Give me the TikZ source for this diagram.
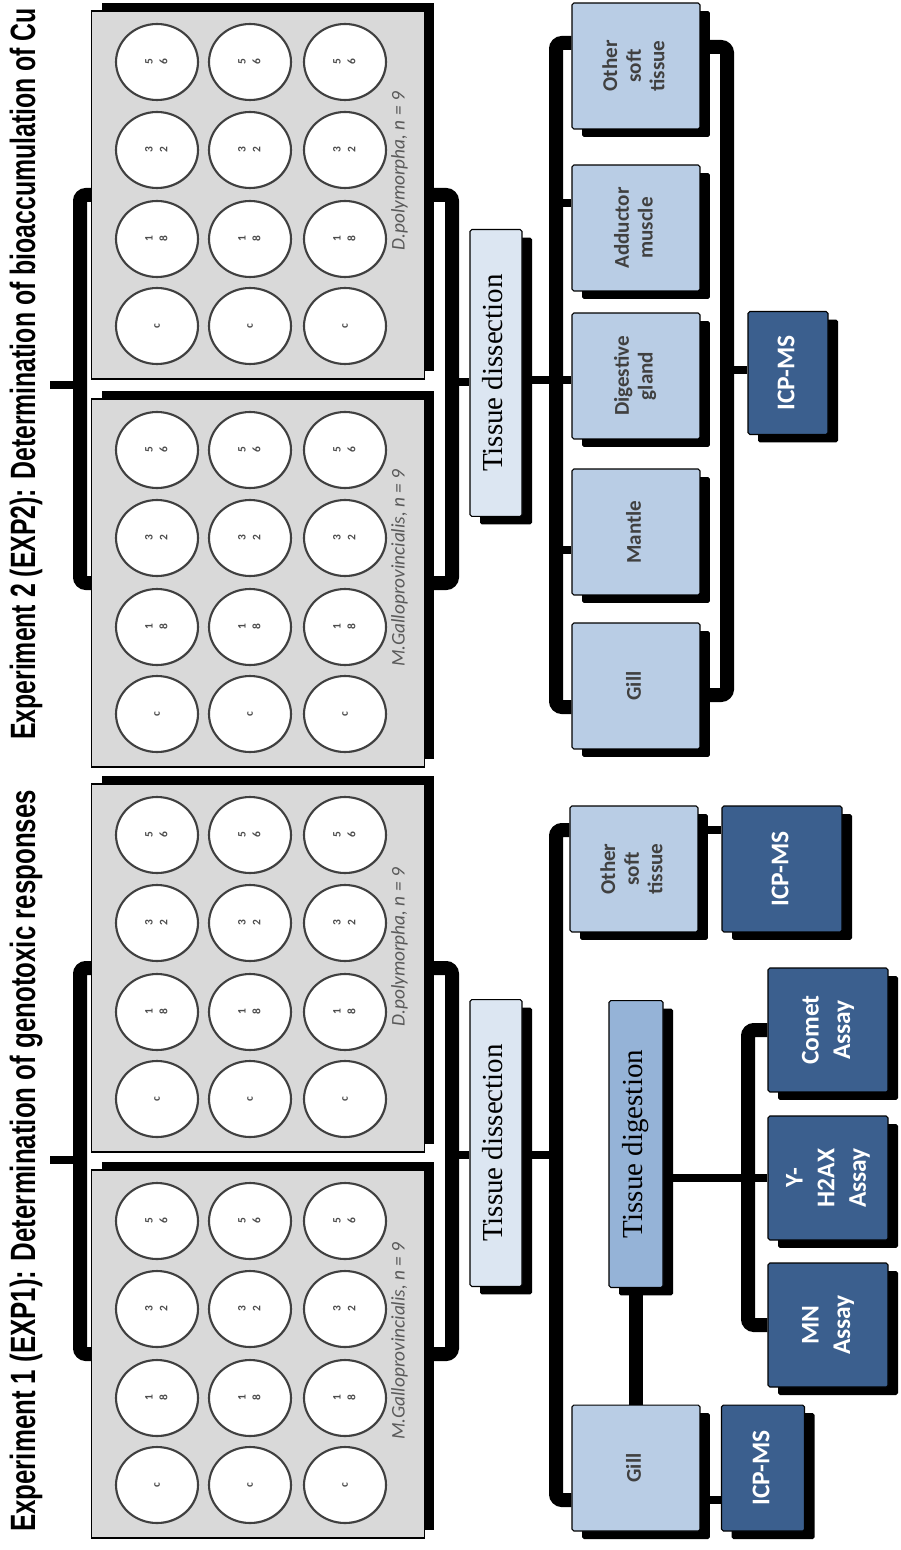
\documentclass[tikz,border=0pt]{standalone}
\usepackage{fontspec}
\usepackage{graphicx}
\setmainfont{Carlito}
\newfontfamily\boxserif{Liberation Serif}
\newfontfamily\headfont{Liberation Sans}
\usetikzlibrary{shapes.geometric,shadows}
\definecolor{plateGrey}{HTML}{D9D9D9}
\definecolor{organBlue}{HTML}{B9CDE5}
\definecolor{paleBlue}{HTML}{DCE6F2}
\definecolor{midBlue}{HTML}{95B3D7}
\definecolor{darkBlue}{HTML}{3B5F8E}
\definecolor{labelGrey}{HTML}{595959}
\newcommand{\vtext}[1]{\rotatebox{90}{\begin{tabular}{@{}c@{}}#1\end{tabular}}}

\begin{document}
\begin{tikzpicture}[
  x=0.02cm, y=-0.02cm,
  plate/.style={draw=black, line width=0.8pt, fill=plateGrey, inner sep=0pt,
                minimum width=6.66cm, minimum height=7.36cm,
                drop shadow={shadow xshift=0.2cm, shadow yshift=0.16cm, opacity=1, fill=black}},
  well/.style={ellipse, draw=black!75, line width=1.2pt, fill=white, inner sep=0pt,
               minimum width=1.64cm, minimum height=1.52cm, text=black!70,
               font=\bfseries\fontsize{6.5}{8.5}\selectfont,
               drop shadow={shadow xshift=0.5pt, shadow yshift=-0.5pt, opacity=.3, fill=black}},
  platelab/.style={inner sep=0pt, text=labelGrey, font=\itshape\fontsize{11}{13}\selectfont},
  title/.style={inner sep=0pt, font=\headfont\bfseries\fontsize{20}{24}\selectfont},
  box/.style={draw=black, line width=0.6pt, rounded corners=1pt, inner sep=0pt, align=center,
              drop shadow={shadow xshift=0.2cm, shadow yshift=-0.16cm, opacity=1, fill=black}},
  organ/.style={box, fill=organBlue, minimum width=2.56cm, minimum height=2.52cm,
                text=black!75, font=\bfseries\fontsize{12}{13.5}\selectfont},
  assay/.style={box, fill=darkBlue, text=white, font=\bfseries\fontsize{14.5}{18}\selectfont},
  tissue/.style={box, minimum width=1.04cm, minimum height=5.74cm,
                 font=\boxserif\fontsize{16.5}{19}\selectfont},
  bar/.style={line width=0.28cm, rounded corners=0.12cm},
  link/.style={line width=0.16cm}
]
\useasboundingbox (0,0) rectangle (901,1550);

% titles
\node[title] (t2) at (26,374) {\rotatebox{90}{\resizebox{14.64cm}{\height}{Experiment 2 (EXP2): Determination of bioaccumulation of Cu}}};
\node[title] (t1) at (26,1161) {\rotatebox{90}{\resizebox{14.84cm}{\height}{Experiment 1 (EXP1): Determination of genotoxic responses}}};

% well plates
\node[plate] (pD2) at (258,195) {};
\node[plate] (pM2) at (258,583) {};
\node[plate] (pD1) at (258,968) {};
\node[plate] (pM1) at (258,1354) {};
\foreach \p/\cy in {pD2/195, pM2/583, pD1/968, pM1/1354} {
  \foreach \cx [count=\r] in {157,250,345} {
    \foreach \dy/\lab [count=\c] in {-133/{5\\6}, -45/{3\\2}, 44/{1\\8}, 131/{c}} {
      \node[well] (\p-w\r\c) at (\cx,\cy+\dy) {\vtext{\lab}};
    }
  }
}
\node[platelab] (lD2) at (400,171) {\vtext{D.polymorpha, n = 9}};
\node[platelab] (lM2) at (400,568) {\vtext{M.Galloprovincialis, n = 9}};
\node[platelab] (lD1) at (400,947) {\vtext{D.polymorpha, n = 9}};
\node[platelab] (lM1) at (400,1341) {\vtext{M.Galloprovincialis, n = 9}};

% EXP2 boxes
\node[tissue, fill=paleBlue] (ts2) at (496,373) {\vtext{Tissue dissection}};
\node[organ] (o2)  at (636,66)  {\vtext{Other\\soft\\tissue}};
\node[organ] (ad2) at (636,228) {\vtext{Adductor\\muscle}};
\node[organ] (dg2) at (636,376) {\vtext{Digestive\\gland}};
\node[organ] (ma2) at (636,532) {\vtext{Mantle}};
\node[organ] (g2)  at (636,686) {\vtext{Gill}};
\node[assay, minimum width=1.6cm, minimum height=2.46cm] (icp2) at (788,373) {\vtext{ICP-MS}};

% EXP1 boxes
\node[tissue, fill=paleBlue] (ts1) at (496,1143) {\vtext{Tissue dissection}};
\node[tissue, fill=midBlue, minimum width=1.08cm] (td1) at (636,1144) {\vtext{Tissue digestion}};
\node[organ] (o1) at (634,869)  {\vtext{Other\\soft\\tissue}};
\node[organ] (g1) at (636,1468) {\vtext{Gill}};
\node[assay, minimum width=2.4cm, minimum height=2.52cm]  (icpA)  at (782,869)  {\vtext{ICP-MS}};
\node[assay, minimum width=1.66cm, minimum height=2.52cm] (icpB)  at (763,1468) {\vtext{ICP-MS}};
\node[assay, minimum width=2.4cm, minimum height=2.48cm]  (comet) at (828,1030) {\vtext{Comet\\Assay}};
\node[assay, minimum width=2.4cm, minimum height=2.48cm]  (gamma) at (828,1178) {\vtext{Y-\\H2AX\\Assay}};
\node[assay, minimum width=2.4cm, minimum height=2.48cm]  (mn)    at (828,1325) {\vtext{MN\\Assay}};

% bracket points
\coordinate (bl2) at (80,385);   \coordinate (tk2) at (50,385);
\coordinate (br2) at (452,382);  \coordinate (ob2) at (556,380);
\coordinate (rb2) at (727,370);
\coordinate (bl1) at (80,1160);  \coordinate (tk1) at (50,1160);
\coordinate (br1) at (452,1155); \coordinate (ob1) at (556,1155);
\coordinate (ab1) at (748,1178);

% EXP2 connectors
\draw[bar] (pD2.west) -| (bl2) |- (pM2.west);
\draw[link] (bl2) -- (tk2);
\draw[bar] (pD2.east) -| (br2) |- (pM2.east);
\draw[link] (br2) -- (br2 -| ts2.west);
\draw[link] (ts2.east |- ob2) -- (ob2);
\draw[bar] (o2.west |- 0,43) -| (ob2) |- (g2.west |- 0,707);
\draw[link] (ob2 |- 0,203) -- (ad2.west |- 0,203);
\draw[link] (ob2) -- (dg2.west |- ob2);
\draw[link] (ob2 |- 0,550) -- (ma2.west |- 0,550);
\draw[bar] (o2.east |- 0,47) -| (rb2) |- (g2.east |- 0,695);
\draw[link] (rb2) -- (icp2.west |- rb2);

% EXP1 connectors
\draw[bar] (pD1.west) -| (bl1) |- (pM1.west);
\draw[link] (bl1) -- (tk1);
\draw[bar] (pD1.east) -| (br1) |- (pM1.east);
\draw[link] (br1) -- (br1 -| ts1.west);
\draw[link] (ts1.east |- ob1) -- (ob1);
\draw[bar] (o1.west |- 0,830) -| (ob1) |- (g1.west |- 0,1500);
\draw[link] (o1.east |- 0,830) -- (icpA.west |- 0,830);
\draw[link] (g1.east |- 0,1500) -- (icpB.west |- 0,1500);
\draw[bar] (td1) -- (g1);
\draw[link] (gamma.west -| td1.east) -- (gamma.west);
\draw[bar] (comet.west) -| (ab1) |- (mn.west);
\end{tikzpicture}
\end{document}
